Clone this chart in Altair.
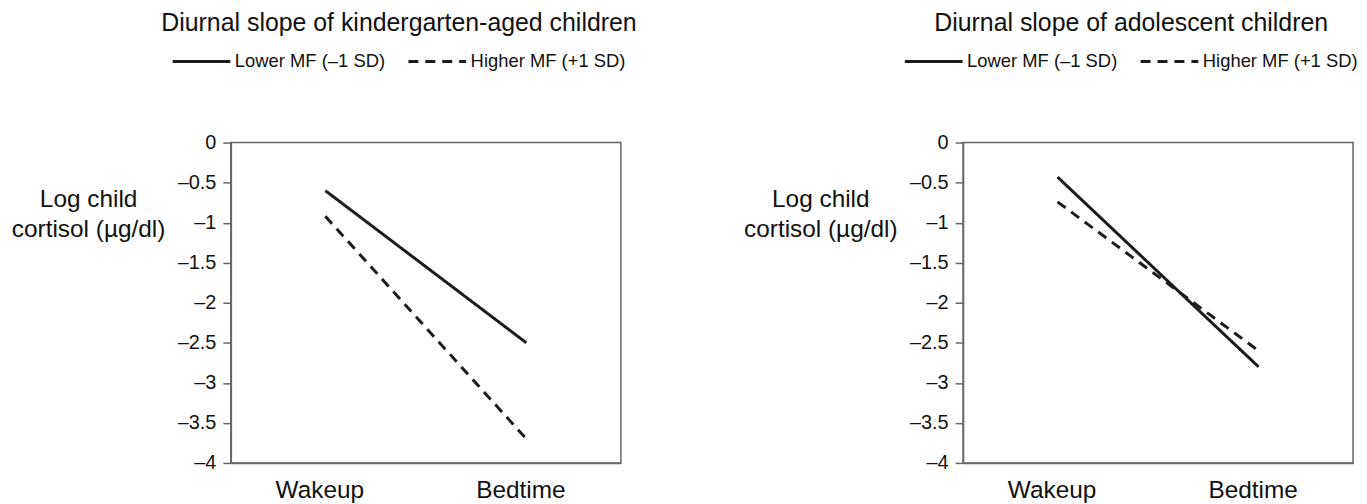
import altair as alt
import pandas as pd

# ---- data ----
times = ["Wakeup", "Bedtime"]
groups = ["Lower MF (–1 SD)", "Higher MF (+1 SD)"]
kinder_lower = [-0.60, -2.50]
kinder_higher = [-0.92, -3.70]
adol_lower = [-0.43, -2.80]
adol_higher = [-0.74, -2.60]
panel_titles = ["Diurnal slope of kindergarten-aged children",
                "Diurnal slope of adolescent children"]
y_ticks = [0, -0.5, -1, -1.5, -2, -2.5, -3, -3.5, -4]
y_title = ["Log child", "cortisol (µg/dl)"]

FONT = "Liberation Sans"
FRAME = "#666666"
INK = "#1c1c1c"


def panel_df(lower, higher):
    rows = []
    for g, vals in zip(groups, [lower, higher]):
        for t, v in zip(times, vals):
            rows.append({"time": t, "group": g, "value": v})
    return pd.DataFrame(rows)


def make_panel(df, title):
    return alt.Chart(
        df,
        title=alt.TitleParams(title, fontSize=25, font=FONT, fontWeight="normal",
                              color="#111111", anchor="middle", dx=-27, offset=-5),
    ).mark_line(strokeWidth=3, color=INK).encode(
        x=alt.X("time:N", sort=times,
                scale=alt.Scale(type="point", padding=0.47),
                axis=alt.Axis(title=None, labelAngle=0, ticks=False, tickSize=0,
                              labelFontSize=24.5, labelPadding=16, labelColor="#111111",
                              labelOffset=-6, labelFont=FONT, grid=False)),
        y=alt.Y("value:Q",
                scale=alt.Scale(domain=[-4, 0], nice=False, zero=False),
                axis=alt.Axis(values=y_ticks, title=y_title, titleAngle=0,
                              titleX=-143.5, titleY=64, titleAlign="center",
                              titleBaseline="alphabetic", titleLineHeight=30,
                              titleFontSize=24.5, titleFontWeight="normal",
                              titleFont=FONT, titleColor="#111111",
                              labelExpr="datum.value == 0 ? '0' : '–' + format(abs(datum.value), '')",
                              labelFontSize=20, labelPadding=7, labelFont=FONT,
                              labelColor="#111111", tickSize=8, grid=False)),
        strokeDash=alt.StrokeDash(
            "group:N", sort=groups,
            scale=alt.Scale(domain=groups, range=[[1, 0], [10, 7]]),
            legend=alt.Legend(title=None, orient="none", legendX=-60, legendY=-112,
                              direction="horizontal", symbolType="stroke",
                              symbolSize=3364, symbolStrokeWidth=3,
                              symbolStrokeColor=INK, labelFontSize=18.5,
                              labelOffset=3, columnPadding=16, labelFont=FONT,
                              labelColor="#111111", padding=0)),
    ).properties(width=392, height=322)


left = make_panel(panel_df(kinder_lower, kinder_higher), panel_titles[0])
right = make_panel(panel_df(adol_lower, adol_higher), panel_titles[1])

chart = alt.hconcat(left, right, spacing=105).resolve_legend(
    strokeDash="independent").resolve_scale(strokeDash="independent").properties(
    padding={"left": 2, "top": 1, "right": 0, "bottom": 0}
).configure_view(stroke=FRAME, strokeWidth=1.5).configure_axis(
    domainColor=FRAME, domainWidth=1.5, tickColor=FRAME, tickWidth=1.5
)

chart.save("out.html", embed_options={"renderer": "svg", "actions": False})
